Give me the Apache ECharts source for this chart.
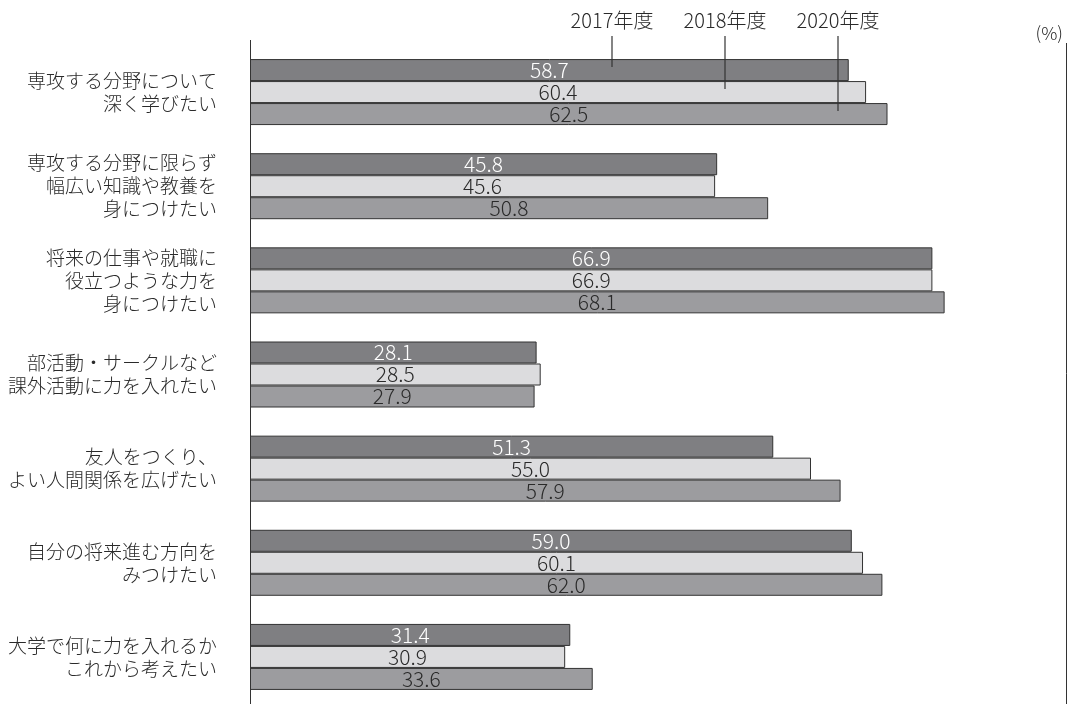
<!DOCTYPE html>
<html><head><meta charset="utf-8">
<script src="https://cdn.jsdelivr.net/npm/echarts@6/dist/echarts.min.js"></script>
<style>html,body{margin:0;padding:0;background:#fff}#c{width:1068px;height:704px}</style>
</head><body><div id="c"></div>
<script>
const categories = [
  '専攻する分野について\n深く学びたい',
  '専攻する分野に限らず\n幅広い知識や教養を\n身につけたい',
  '将来の仕事や就職に\n役立つような力を\n身につけたい',
  '部活動・サークルなど\n課外活動に力を入れたい',
  '友人をつくり、\nよい人間関係を広げたい',
  '自分の将来進む方向を\nみつけたい',
  '大学で何に力を入れるか\nこれから考えたい'
];
const seriesNames = ['2017年度', '2018年度', '2020年度'];
const v2017 = [58.7, 45.8, 66.9, 28.1, 51.3, 59.0, 31.4];
const v2018 = [60.4, 45.6, 66.9, 28.5, 55.0, 60.1, 30.9];
const v2020 = [62.5, 50.8, 68.1, 27.9, 57.9, 62.0, 33.6];
const xMax = 80;

const FONT = "'Noto Sans CJK JP','Noto Sans',sans-serif";
const colors = ['#7f7f82', '#dcdcde', '#9c9c9f'];
const labelColors = ['#ffffff', '#2a2a2a', '#2a2a2a'];
const allVals = [v2017, v2018, v2020];

const chart = echarts.init(document.getElementById('c'), null, {renderer: 'canvas'});
const option = {
  animation: false,
  grid: {left: 250, right: 2, top: 45, bottom: 0, containLabel: false},
  xAxis: {type: 'value', min: 0, max: xMax, show: false},
  yAxis: {
    type: 'category', data: categories, inverse: true,
    axisLine: {show: false}, axisTick: {show: false},
    axisLabel: {margin: 33, fontSize: 19, lineHeight: 23, color: '#2a2a2a', fontFamily: FONT, fontWeight: 300, align: 'right'}
  },
  series: seriesNames.map((n, i) => ({
    name: n, type: 'bar', data: allVals[i], barWidth: 22, barGap: '0%',
    itemStyle: {color: colors[i], borderColor: '#333', borderWidth: 1},
    label: {show: true, position: 'inside', formatter: p => p.value.toFixed(1),
      color: labelColors[i], fontSize: 21, fontWeight: 300, fontFamily: FONT}
  }))
};
chart.setOption(option);

// callout legend
const legendX = [612, 725, 838];
const g = [];
seriesNames.forEach((n, i) => {
  const y = chart.convertToPixel({yAxisIndex: 0}, categories[0]);
  const barCenter = y + (i - 1) * 22 - 3;
  g.push({type: 'text', x: legendX[i], y: 20,
    style: {text: n, font: '300 20px ' + FONT, fill: '#2a2a2a', textAlign: 'center', textVerticalAlign: 'middle'}});
  g.push({type: 'line', shape: {x1: legendX[i], y1: 36, x2: legendX[i], y2: barCenter},
    style: {stroke: '#333', lineWidth: 1.2}, z: 100});
});
g.push({type: 'line', shape: {x1: 250.5, y1: 40, x2: 250.5, y2: 704}, style: {stroke: '#333', lineWidth: 1}, z: 100});
g.push({type: 'line', shape: {x1: 1066.5, y1: 43, x2: 1066.5, y2: 704}, style: {stroke: '#333', lineWidth: 1}, z: 100});
g.push({type: 'text', x: 1063, y: 33, style: {text: '(%)', font: '300 18px ' + FONT, fill: '#2a2a2a', textAlign: 'right', textVerticalAlign: 'middle'}});
chart.setOption({graphic: g});
</script></body></html>
